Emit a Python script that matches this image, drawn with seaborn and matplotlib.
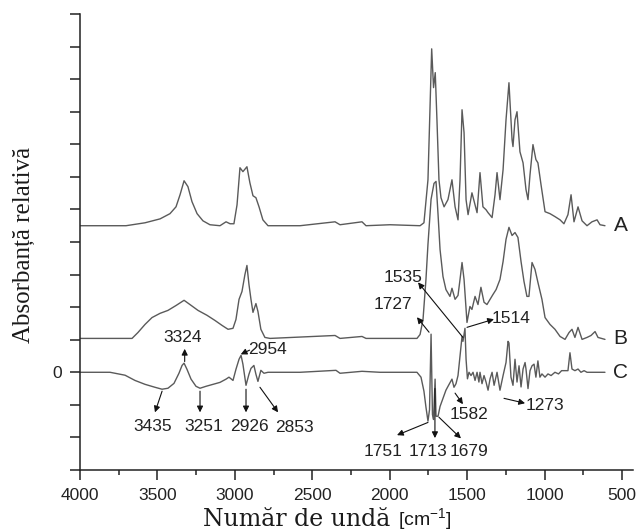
import numpy as np
import pandas as pd
import matplotlib
matplotlib.use('Agg')
import matplotlib.pyplot as plt
from matplotlib.ticker import MultipleLocator
import seaborn as sns

# spectrum A (baseline = 0)
a_wn = [4000, 3703, 3580, 3483, 3419, 3380, 3354, 3328, 3303, 3277, 3244, 3206, 3161, 3096, 3057,
        3031, 3006, 2986, 2967, 2948, 2922, 2903, 2883, 2864, 2844, 2819, 2786, 2579, 2353, 2321,
        2179, 2153, 1998, 1804, 1779, 1753, 1729, 1717, 1706, 1695, 1682, 1669, 1649, 1624, 1598,
        1578, 1559, 1546, 1533, 1520, 1507, 1494, 1469, 1449, 1436, 1417, 1398, 1378, 1365, 1339,
        1320, 1307, 1288, 1268, 1249, 1230, 1210, 1204, 1191, 1178, 1159, 1139, 1120, 1107, 1094,
        1075, 1056, 1043, 1023, 997, 965, 933, 900, 875, 849, 829, 810, 784, 758, 726,
        694, 661, 642, 610]
a_abs = [0, 0, 0.09, 0.21, 0.37, 0.58, 0.95, 1.38, 1.20, 0.74, 0.37, 0.15, 0.03, 0, 0.12,
         0.06, 0.06, 0.64, 1.78, 1.66, 1.81, 1.32, 0.92, 0.86, 0.58, 0.18, 0, 0, 0.12, 0.03,
         0.12, 0, 0.03, 0, 0.09, 1.41, 5.43, 4.24, 4.70, 3.25, 1.41, 0.86, 0.58, 0.80, 1.41,
         0.58, 0.18, 1.41, 3.56, 2.86, 0.80, 0.34, 1.01, 0.64, 0.40, 1.63, 0.58, 0.49, 0.40, 0.25,
         0.95, 1.63, 0.80, 1.72, 3.25, 4.39, 2.64, 2.43, 3.25, 3.50, 2.27, 1.93, 1.11, 0.80, 1.57,
         2.49, 2.03, 1.93, 1.26, 0.43, 0.37, 0.28, 0.18, 0.06, 0.34, 0.95, 0.12, 0.58, 0.15, 0,
         0.12, 0.18, 0.03, 0]

# spectrum B
b_wn = [4000, 3664, 3626, 3580, 3535, 3483, 3432, 3380, 3328, 3290, 3238, 3180, 3128, 3083, 3044,
        3012, 2993, 2973, 2954, 2935, 2922, 2909, 2896, 2883, 2864, 2851, 2832, 2806, 2773, 2353,
        2321, 2179, 2153, 1824, 1804, 1785, 1766, 1753, 1733, 1714, 1701, 1688, 1675, 1656, 1637,
        1611, 1598, 1578, 1559, 1546, 1533, 1520, 1501, 1482, 1469, 1449, 1430, 1411, 1391, 1372,
        1352, 1333, 1313, 1288, 1268, 1249, 1230, 1210, 1191, 1172, 1152, 1133, 1114, 1101, 1081,
        1062, 1043, 1017, 997, 965, 933, 900, 868, 842, 823, 804, 784, 758, 726, 700,
        674, 655, 610]
b_abs = [0, 0, 0.18, 0.43, 0.64, 0.77, 0.86, 1.01, 1.17, 1.04, 0.86, 0.71, 0.55, 0.40, 0.28,
         0.31, 0.58, 1.20, 1.44, 1.96, 2.24, 1.66, 1.20, 0.80, 1.07, 0.83, 0.28, 0.03, 0, 0.09,
         0, 0.06, 0, 0, 0.12, 0.58, 1.81, 2.89, 4.27, 4.76, 4.82, 3.81, 2.73, 1.90, 1.50,
         1.29, 1.54, 1.20, 1.32, 1.81, 2.33, 1.81, 0.49, 0.98, 0.89, 1.29, 1.04, 1.57, 1.11, 1.04,
         1.20, 1.35, 1.50, 1.81, 2.36, 3.04, 3.41, 3.16, 3.25, 3.10, 2.36, 1.75, 1.29, 1.29, 2.33,
         2.12, 1.72, 1.20, 0.64, 0.43, 0.28, 0.06, -0.03, 0.18, 0.28, 0.03, 0.34, -0.03, 0.03, 0.09,
         0.21, 0.03, -0.03]

# difference spectrum C
c_wn = [4000, 3806, 3709, 3645, 3580, 3516, 3470, 3432, 3393, 3361, 3341, 3328, 3309, 3283, 3251,
        3225, 3186, 3141, 3096, 3057, 3038, 3012, 2993, 2973, 2960, 2948, 2928, 2909, 2896, 2877,
        2864, 2851, 2832, 2812, 2786, 2579, 2347, 2321, 2179, 2063, 1824, 1798, 1779, 1766, 1753,
        1743, 1733, 1724, 1717, 1707, 1701, 1688, 1675, 1656, 1637, 1620, 1598, 1585, 1572, 1559,
        1546, 1533, 1527, 1514, 1507, 1498, 1488, 1475, 1462, 1449, 1436, 1424, 1417, 1404, 1391,
        1378, 1365, 1352, 1339, 1326, 1307, 1288, 1268, 1249, 1236, 1230, 1217, 1204, 1191, 1178,
        1165, 1152, 1139, 1126, 1120, 1107, 1094, 1081, 1068, 1056, 1043, 1030, 1017, 997, 978,
        958, 933, 910, 890, 868, 849, 836, 823, 804, 784, 765, 745, 726, 700, 610]
c_abs = [0, 0, -0.09, -0.25, -0.37, -0.46, -0.52, -0.49, -0.34, -0.03, 0.21, 0.28, 0.09, -0.21, -0.43,
         -0.49, -0.43, -0.37, -0.31, -0.21, -0.15, -0.25, 0.09, 0.40, 0.52, 0.25, -0.40, -0.06, 0.12, 0.21,
         -0.06, -0.28, 0.06, -0.03, 0, 0, 0.06, -0.03, 0.03, 0, 0, -0.15, -0.58, -1.07, -1.50,
         -1.15, 1.17, -1.30, -1.45, -0.21, -1.35, -1.35, -1.05, -0.80, -0.55, -0.40, -0.21, -0.46, -0.35, -0.10,
         0.50, 1.10, 0.95, 1.35, 0.40, -0.20, 0.0, -0.10, 0.0, -0.25, 0.0, -0.30, 0.0, -0.35, -0.10,
         -0.30, -0.55, -0.20, 0.0, -0.40, 0.0, -0.55, -0.10, 0.30, 0.95, 0.90, -0.15, -0.40, 0.40, -0.30,
         0.20, -0.45, 0.10, 0.30, 0.10, -0.50, 0.05, 0.20, 0.25, -0.15, 0.35, -0.15, -0.05, -0.15, -0.05,
         -0.10, 0.0, -0.05, 0.05, 0.05, 0.05, 0.60, 0.10, 0.05, 0.10, 0.0, 0.05, 0.0, 0.0, 0.0]

spectra = ['A', 'B', 'C']
offsets = {'A': 4.5, 'B': 1.04, 'C': 0.0}

# peak labels on spectrum C: (label, arrow tail, arrow head, text position)
peak_labels = [
    ('3324', (3324, 0.33), (3324, 0.72), (3335, 1.07)),
    ('2954', (2905, 0.68), (2962, 0.55), (2790, 0.71)),
    ('3435', (3470, -0.58), (3516, -1.23), (3529, -1.66)),
    ('3251', (3225, -0.58), (3225, -1.23), (3199, -1.66)),
    ('2926', (2928, -0.52), (2928, -1.23), (2905, -1.66)),
    ('2853', (2838, -0.46), (2721, -1.23), (2618, -1.69)),
    ('1751', (1753, -1.54), (1953, -1.93), (2043, -2.43)),
    ('1713', (1708, -0.50), (1708, -2.02), (1750, -2.43)),
    ('1679', (1682, -1.38), (1540, -2.03), (1488, -2.43)),
    ('1582', (1578, -0.64), (1527, -0.98), (1488, -1.29)),
    ('1273', (1262, -0.80), (1126, -0.95), (997, -1.01)),
    ('1514', (1501, 1.38), (1327, 1.63), (1217, 1.66)),
    ('1535', (1527, 1.07), (1817, 2.76), (1914, 2.92)),
    ('1727', (1746, 1.23), (1824, 1.69), (1979, 2.09)),
]

sns.set_style('ticks')
plt.rcParams['font.family'] = ['Liberation Sans', 'DejaVu Sans']

frames = []
for name, wn, ab in zip(spectra, [a_wn, b_wn, c_wn], [a_abs, b_abs, c_abs]):
    d = pd.DataFrame({'wavenumber': wn, 'absorbance': ab})
    d['spectrum'] = name
    frames.append(d)
df = pd.concat(frames, ignore_index=True)
df['shifted'] = df['absorbance'] + df['spectrum'].map(offsets)

fig = plt.figure(figsize=(6.36, 5.32), dpi=100)
ax = fig.add_axes([80 / 636, 62 / 532, 553 / 636, 456 / 532])

line_col = '#5a5a5a'
sns.lineplot(data=df, x='wavenumber', y='shifted', hue='spectrum',
             palette={s: line_col for s in spectra}, estimator=None,
             legend=False, linewidth=1.0, ax=ax)

ax.set_xlim(4000, 429)
ax.set_ylim(-3, 11)
sns.despine(ax=ax)
for side in ['left', 'bottom']:
    ax.spines[side].set_color('#222222')
    ax.spines[side].set_linewidth(1.1)

ax.set_xticks(np.arange(4000, 499, -500))
ax.xaxis.set_minor_locator(MultipleLocator(250))
yt = list(range(-3, 12))
ax.set_yticks(yt)
ax.set_yticklabels(['0' if v == 0 else '' for v in yt])
ax.tick_params(axis='both', which='major', direction='out', length=7, width=1.1,
               labelsize=12.5, pad=6, colors='#222222')
ax.tick_params(axis='x', which='minor', direction='out', length=3.5, width=1.1, colors='#222222')
ax.set_xlabel('')
ax.set_ylabel('')

# trace names at the right end
for name in spectra:
    ax.text(510, offsets[name], name, ha='center', va='center', fontsize=15, color='#222222')

for label, tail, head, txt in peak_labels:
    ax.annotate('', xy=head, xytext=tail,
                arrowprops=dict(arrowstyle='-|>', color='#111111', lw=0.8,
                                mutation_scale=9, shrinkA=0, shrinkB=0))
    ax.text(txt[0], txt[1], label, ha='center', va='center', fontsize=12.5, color='#222222')

# axis titles
fig.text(390 / 636, 6 / 532, 'Număr de undă', ha='right', va='baseline',
         family='DejaVu Serif', fontsize=17, color='#1a1a1a')
fig.text(398 / 636, 6 / 532, '[cm$^{\\mathregular{-1}}$]', ha='left', va='baseline',
         fontsize=14, color='#1a1a1a')
fig.text(24 / 636, 1 - 245 / 532, 'Absorbanță relativă', rotation=90, ha='center', va='center',
         family=['Liberation Serif', 'DejaVu Serif'], fontsize=18, color='#1a1a1a')

fig.savefig('out.png', dpi=100)
